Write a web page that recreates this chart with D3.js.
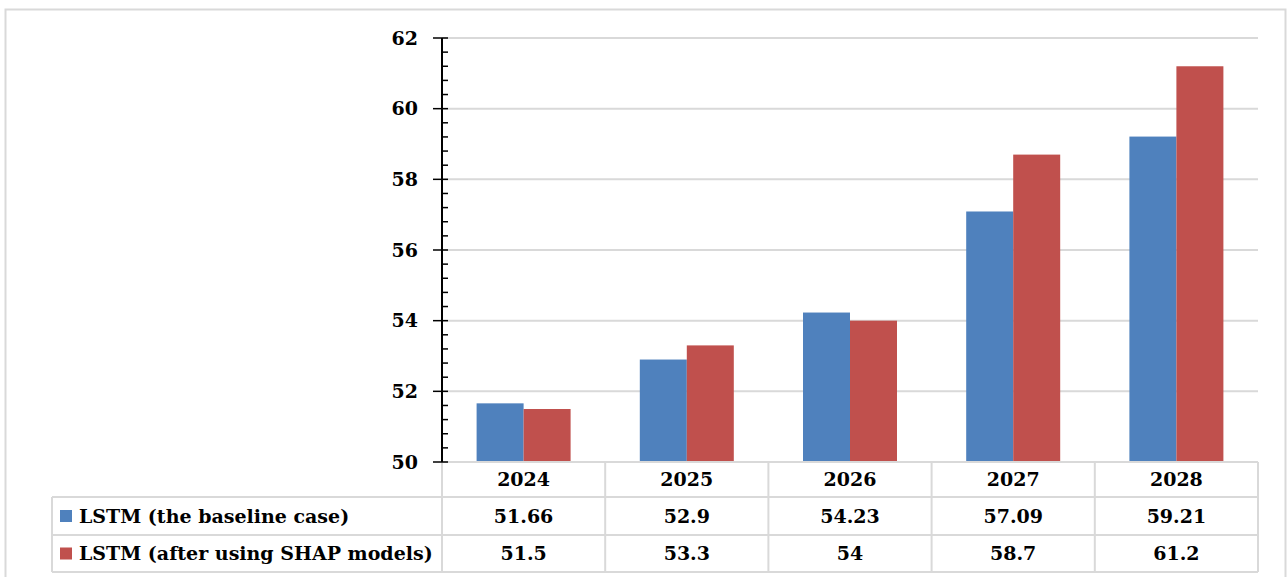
<!DOCTYPE html>
<html>
<head>
<meta charset="utf-8">
<script src="https://cdn.jsdelivr.net/npm/d3@7"></script>
<style>
  body { margin: 0; background: #fff; }
  text { font-family: "DejaVu Serif", serif; font-weight: bold; }
</style>
</head>
<body>
<div id="chart"></div>
<script>
let w = 1287;
let h = 577;

// data
let years = ["2024", "2025", "2026", "2027", "2028"];
let seriesNames = ["LSTM (the baseline case)", "LSTM (after using SHAP models)"];
let baseline = [51.66, 52.9, 54.23, 57.09, 59.21];
let shap = [51.5, 53.3, 54, 58.7, 61.2];
let tableLabels = [["51.66", "52.9", "54.23", "57.09", "59.21"], ["51.5", "53.3", "54", "58.7", "61.2"]];
let colors = ["#4f81bd", "#c0504d"];
let yTicks = [50, 52, 54, 56, 58, 60, 62];

let plotLeft = 442, plotRight = 1258, plotTop = 38, plotBottom = 462;
let tableLeft = 52;
let rowLines = [462, 497, 535, 572];
let gridColor = "#d9d9d9";
let fs = 19;

let viz = d3.select("#chart")
  .append("svg")
  .attr("width", w)
  .attr("height", h)
;

// outer frame
viz.append("rect")
  .attr("x", 5.5).attr("y", 9.5)
  .attr("width", 1280).attr("height", 600)
  .attr("fill", "none")
  .attr("stroke", gridColor)
  .attr("stroke-width", 2);

let yScale = d3.scaleLinear().domain([50, 62]).range([plotBottom, plotTop]);
let xScale = d3.scaleBand().domain(years).range([plotLeft, plotRight]);
// two bars of ~47px centred in each category
let xInner = d3.scaleBand().domain([0, 1]).range([xScale.bandwidth()/2 - 47, xScale.bandwidth()/2 + 47]);

// gridlines
viz.append("g").selectAll("line").data(yTicks.filter(d => d > 50)).enter()
  .append("line")
  .attr("x1", plotLeft).attr("x2", plotRight)
  .attr("y1", d => yScale(d)).attr("y2", d => yScale(d))
  .attr("stroke", gridColor).attr("stroke-width", 2);

// bars
let series = [baseline, shap];
series.forEach((vals, si) => {
  viz.append("g").selectAll("rect").data(vals).enter()
    .append("rect")
    .attr("x", (d, i) => xScale(years[i]) + xInner(si))
    .attr("width", xInner.bandwidth())
    .attr("y", d => yScale(d))
    .attr("height", d => yScale(50) - yScale(d))
    .attr("fill", colors[si]);
});

// data table
let table = viz.append("g");
table.append("line").attr("x1", plotLeft).attr("x2", plotRight).attr("y1", rowLines[0]).attr("y2", rowLines[0])
  .attr("stroke", gridColor).attr("stroke-width", 2);
rowLines.slice(1).forEach(y => {
  table.append("line").attr("x1", tableLeft).attr("x2", plotRight).attr("y1", y).attr("y2", y)
    .attr("stroke", gridColor).attr("stroke-width", 2);
});
years.forEach(yr => {
  table.append("line").attr("x1", xScale(yr)).attr("x2", xScale(yr))
    .attr("y1", rowLines[0]).attr("y2", rowLines[3])
    .attr("stroke", gridColor).attr("stroke-width", 2);
});
table.append("line").attr("x1", plotRight).attr("x2", plotRight).attr("y1", rowLines[0]).attr("y2", rowLines[3])
  .attr("stroke", gridColor).attr("stroke-width", 2);
table.append("line").attr("x1", tableLeft).attr("x2", tableLeft).attr("y1", rowLines[1]).attr("y2", rowLines[3])
  .attr("stroke", gridColor).attr("stroke-width", 2);

// header row
table.selectAll(".yr").data(years).enter()
  .append("text")
  .attr("x", d => xScale(d) + xScale.bandwidth() / 2)
  .attr("y", (rowLines[0] + rowLines[1]) / 2)
  .attr("dy", "0.35em")
  .attr("text-anchor", "middle")
  .attr("font-size", fs)
  .text(d => d);

// value rows + legend keys
tableLabels.forEach((labels, si) => {
  let cy = (rowLines[si + 1] + rowLines[si + 2]) / 2;
  table.append("g").selectAll("text").data(labels).enter()
    .append("text")
    .attr("x", (d, i) => xScale(years[i]) + xScale.bandwidth() / 2)
    .attr("y", cy)
    .attr("dy", "0.35em")
    .attr("text-anchor", "middle")
    .attr("font-size", fs)
    .text(d => d);
  table.append("rect")
    .attr("x", 60).attr("y", cy - 6)
    .attr("width", 12).attr("height", 12)
    .attr("fill", colors[si]);
  table.append("text")
    .attr("x", 79).attr("y", cy)
    .attr("dy", "0.35em")
    .attr("font-size", fs)
    .text(seriesNames[si]);
});

// y axis: major ticks cross the line, minor ticks inside
let minor = d3.range(50, 62.01, 0.4).filter(v => Math.abs(v / 2 - Math.round(v / 2)) > 0.01);
let yAxisG = viz.append("g");
yAxisG.selectAll(".minor").data(minor).enter()
  .append("line")
  .attr("x1", plotLeft).attr("x2", plotLeft + 6)
  .attr("y1", d => yScale(d)).attr("y2", d => yScale(d))
  .attr("stroke", "#000").attr("stroke-width", 1.5);
yAxisG.selectAll(".major").data(yTicks).enter()
  .append("line")
  .attr("x1", plotLeft - 9).attr("x2", plotLeft + 6)
  .attr("y1", d => yScale(d)).attr("y2", d => yScale(d))
  .attr("stroke", "#000").attr("stroke-width", 1.5);
yAxisG.append("line")
  .attr("x1", plotLeft).attr("x2", plotLeft)
  .attr("y1", plotTop).attr("y2", plotBottom)
  .attr("stroke", "#000").attr("stroke-width", 2);
yAxisG.selectAll("text").data(yTicks).enter()
  .append("text")
  .attr("x", plotLeft - 24)
  .attr("y", d => yScale(d))
  .attr("dy", "0.35em")
  .attr("text-anchor", "end")
  .attr("font-size", fs)
  .text(d => d);
</script>
</body>
</html>
